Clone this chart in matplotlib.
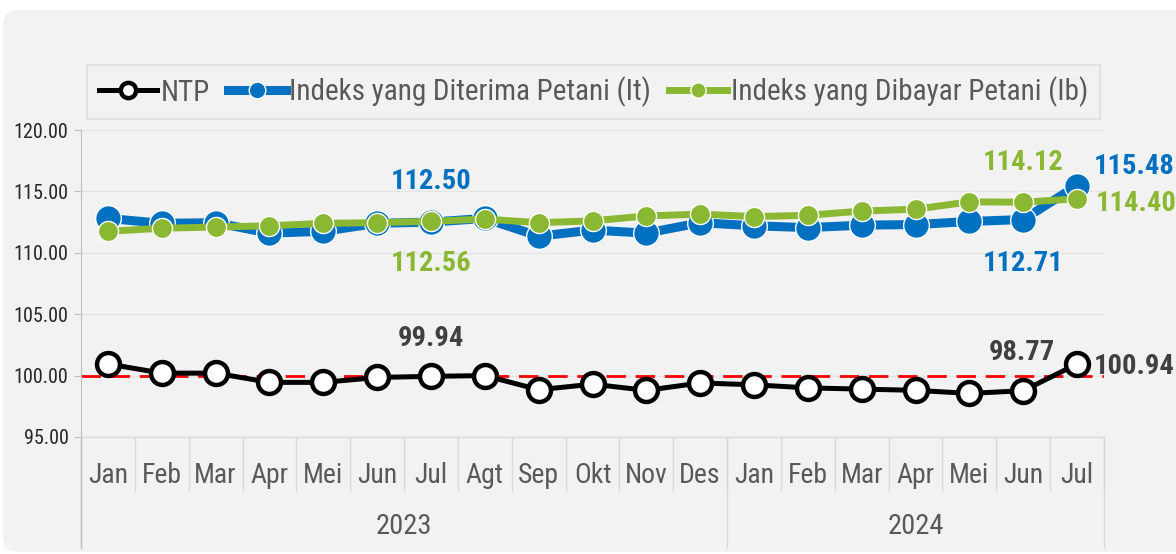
import matplotlib
matplotlib.use("Agg")
import matplotlib.pyplot as plt
from matplotlib import font_manager
from matplotlib.patches import FancyBboxPatch
from matplotlib.transforms import IdentityTransform, blended_transform_factory

# font sempit kalau ada, kalau tidak pakai Liberation Sans dengan ukuran diperkecil
nama_font = {f.name for f in font_manager.fontManager.ttflist}
sempit = next((n for n in ["Liberation Sans Narrow", "Arial Narrow", "Roboto Condensed"] if n in nama_font), None)
if sempit:
    plt.rcParams['font.family'] = [sempit, 'DejaVu Sans']
    k = 1.0
else:
    plt.rcParams['font.family'] = ['Liberation Sans', 'DejaVu Sans']
    k = 0.82

# data
bulan = ["Jan", "Feb", "Mar", "Apr", "Mei", "Jun", "Jul", "Agt", "Sep", "Okt", "Nov", "Des",
         "Jan", "Feb", "Mar", "Apr", "Mei", "Jun", "Jul"]
tahun = ["2023", "2024"]
jumlah_bulan = [12, 7]
ntp = [100.95, 100.2, 100.2, 99.45, 99.45, 99.85, 99.94, 100.0, 98.85, 99.3, 98.8, 99.4,
       99.25, 99.0, 98.9, 98.8, 98.55, 98.77, 100.94]
it = [112.8, 112.4, 112.45, 111.6, 111.75, 112.4, 112.50, 112.8, 111.35, 111.85, 111.6, 112.45,
      112.2, 112.05, 112.25, 112.3, 112.55, 112.71, 115.48]
ib = [111.75, 112.0, 112.1, 112.2, 112.4, 112.45, 112.56, 112.75, 112.45, 112.6, 113.0, 113.15,
      112.95, 113.05, 113.4, 113.55, 114.15, 114.12, 114.40]

abu = "#595959"
biru = "#0070C0"
hijau = "#8AB833"

fig = plt.figure(figsize=(11.76, 5.54), dpi=100)
fig.patch.set_facecolor("white")
# latar abu-abu membulat
bg = FancyBboxPatch((3, 2), 1190, 542, boxstyle="round,pad=0,rounding_size=16",
                    transform=IdentityTransform(), facecolor="#f2f2f2", edgecolor="none", zorder=-5)
fig.patches.append(bg)

ax = fig.add_axes([81/1176, 1-437/554, 1023/1176, 307/554])
ax.set_facecolor("none")
ax.set_zorder(2)
x = list(range(len(bulan)))

ax.plot(x, it, color=biru, lw=6.5, marker="o", ms=18.5, mfc=biru, mec="white", mew=1.0,
        zorder=3, label="Indeks yang Diterima Petani (It)", solid_joinstyle="round")
ax.plot(x, ib, color=hijau, lw=5, marker="o", ms=14.5, mfc=hijau, mec="white", mew=1.0,
        zorder=4, label="Indeks yang Dibayar Petani (Ib)", solid_joinstyle="round")
ax.plot(x, ntp, color="black", lw=3.6, marker="o", ms=16.5, mfc="white", mec="black", mew=3.2,
        zorder=5, label="NTP")
ax.axhline(100, color="#ff0000", lw=2, dashes=(7, 3.5), zorder=2)

ax.set_xlim(-0.5, len(bulan) - 0.5)
ax.set_ylim(95, 120)
ax.set_yticks([95, 100, 105, 110, 115, 120])
ax.set_yticklabels([f"{v:.2f}" for v in [95, 100, 105, 110, 115, 120]])
ax.tick_params(axis="y", length=5, color="#bfbfbf", labelcolor="#262626", labelsize=14.5 * k, pad=4)
ax.set_xticks([])
ax.grid(axis="y", color="#e4e4e4", lw=1)
for s in ["top", "right"]:
    ax.spines[s].set_visible(False)
ax.spines["bottom"].set_color("#d9d9d9")
ax.spines["left"].set_color("#bfbfbf")
ax.spines["left"].set_bounds(95, 120)

# sumbu x bertingkat
tr = blended_transform_factory(ax.transData, ax.transAxes)
for i, b in enumerate(bulan):
    ax.text(i, -0.125, b, transform=tr, ha="center", va="center", fontsize=20 * k, color=abu)
for i in range(len(bulan) + 1):
    ax.plot([i - 0.5, i - 0.5], [0, -0.176], transform=tr, color="#d9d9d9", lw=1, clip_on=False)
batas = [-0.5]
for n in jumlah_bulan:
    batas.append(batas[-1] + n)
for j, t in enumerate(tahun):
    ax.text((batas[j] + batas[j + 1]) / 2, -0.29, t, transform=tr, ha="center", va="center",
            fontsize=20.5 * k, color=abu)
for b in batas:
    ax.plot([b, b], [0, -0.36], transform=tr, color="#d9d9d9", lw=1, clip_on=False)
ax.plot([-0.5, -0.5], [0, -0.36], transform=tr, color="#bfbfbf", lw=1, clip_on=False)

# label data
label = [
    (6, it, biru, 0, 41, "center"),
    (6, ib, hijau, 0, -42, "center"),
    (6, ntp, "#404040", 0, 38, "center"),
    (17, ib, hijau, 0, 40, "center"),
    (17, it, biru, 0, -44, "center"),
    (17, ntp, "#404040", -1, 38, "center"),
    (18, it, biru, 17, 19, "left"),
    (18, ib, hijau, 19, -5, "left"),
    (18, ntp, "#404040", 17, -2, "left"),
]
for i, seri, warna, dx, dy, ha in label:
    ax.annotate(f"{seri[i]:.2f}", (i, seri[i]), xytext=(dx, dy), textcoords="offset pixels",
                ha=ha, va="center", fontsize=20.5 * k, fontweight="bold", color=warna, zorder=6,
                annotation_clip=False)

# legenda
h, l = ax.get_legend_handles_labels()
urut = [2, 0, 1]
leg = fig.legend([h[j] for j in urut], [l[j] for j in urut], loc="center",
                 bbox_to_anchor=(593.5/1176, 1-92/554), ncol=3, fontsize=21 * k,
                 frameon=True, fancybox=False, edgecolor="#d9d9d9", facecolor="#f2f2f2",
                 handlelength=2.0, handletextpad=0.12, columnspacing=0.6, borderpad=0.4,
                 labelcolor=abu)
leg.get_frame().set_linewidth(1.2)
for lh, ms in zip(leg.legend_handles, [11, 12, 11]):
    lh.set_markersize(ms)

fig.savefig("out.png", dpi=100)
